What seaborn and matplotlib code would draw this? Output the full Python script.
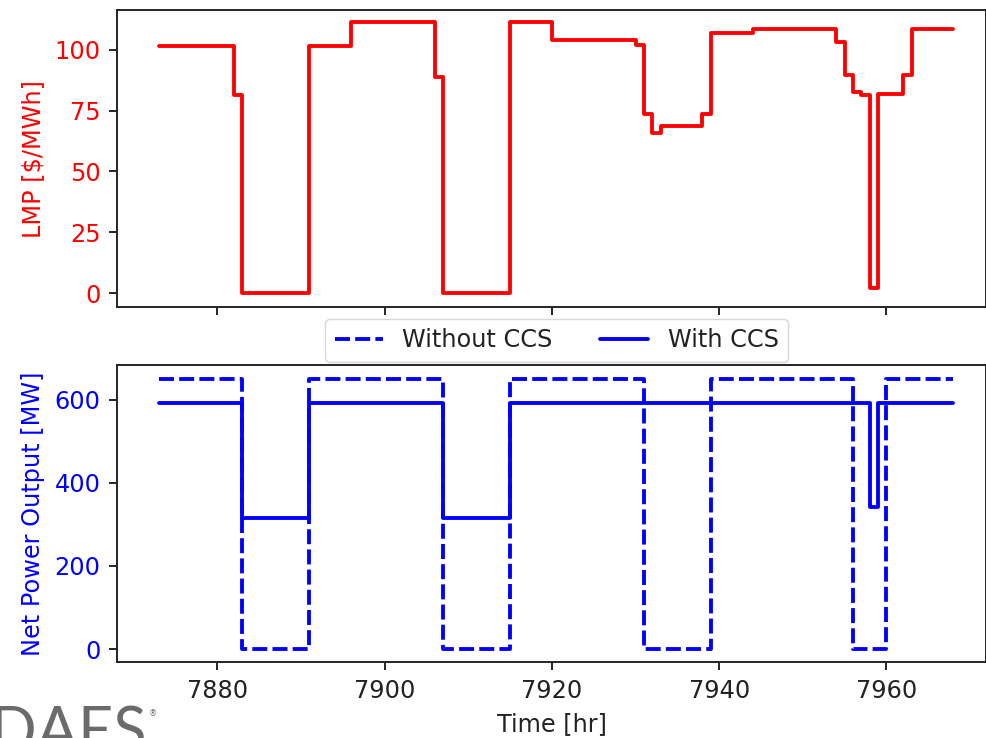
import matplotlib
matplotlib.use("Agg")
import matplotlib.pyplot as plt
import seaborn as sns

# Locational marginal price (step changes, hourly)
lmp_hours = [7873, 7882, 7883, 7891, 7896, 7906, 7907, 7915, 7920, 7930, 7931,
             7932, 7933, 7938, 7939, 7944, 7954, 7955, 7956, 7957, 7958, 7959,
             7962, 7963, 7968]
lmp_values = [101.6, 81.5, 0.0, 101.6, 111.2, 88.8, 0.0, 111.2, 103.8, 102.0,
              73.7, 65.6, 68.7, 73.7, 107.0, 108.6, 103.1, 89.5, 82.5, 81.5,
              1.9, 82.0, 89.7, 108.3, 108.3]

# Net power output of the plant
without_ccs_hours = [7873, 7883, 7891, 7907, 7915, 7931, 7939, 7956, 7960, 7968]
without_ccs_mw = [650, 0, 650, 0, 650, 0, 650, 0, 650, 650]
with_ccs_hours = [7873, 7883, 7891, 7907, 7915, 7958, 7959, 7968]
with_ccs_mw = [592, 315, 592, 315, 592, 342, 592, 592]

xticks = [7880, 7900, 7920, 7940, 7960]
lmp_ticks = [0, 25, 50, 75, 100]
power_ticks = [0, 200, 400, 600]

sns.set_style("ticks")
k = 1.73  # scale factor for a 987x738 canvas
plt.rcParams.update({
    "font.family": ["DejaVu Sans"],
    "font.size": 10 * k,
    "axes.linewidth": 0.8 * k,
    "axes.edgecolor": "#222222",
    "xtick.major.size": 3.5 * k,
    "ytick.major.size": 3.5 * k,
    "xtick.major.width": 0.8 * k,
    "ytick.major.width": 0.8 * k,
    "xtick.major.pad": 3.5 * k,
    "ytick.major.pad": 3.5 * k,
    "axes.labelpad": 4 * k,
    "xtick.color": "#222222",
    "ytick.color": "#222222",
    "text.color": "#222222",
    "axes.labelcolor": "#222222",
    "lines.linewidth": 1.5 * k,
})

fig = plt.figure(figsize=(9.87, 7.38), dpi=100)
W, H = 987, 738


def add_axes_px(left, top, right, bottom):
    return fig.add_axes([left / W, 1 - bottom / H, (right - left) / W, (bottom - top) / H])


ax_top = add_axes_px(117.3, 10, 986, 307)
ax_bot = add_axes_px(117.3, 365, 986, 661.7)

red = "#ff0000"
blue = "#0000ff"
lw = 1.6 * k

sns.lineplot(x=lmp_hours, y=lmp_values, ax=ax_top, color=red, linewidth=lw,
             drawstyle="steps-post", sort=False)
ax_top.set_ylabel("LMP [$/MWh]", color=red)
ax_top.set_yticks(lmp_ticks)
ax_top.tick_params(axis="y", labelcolor=red)
ax_top.set_ylim(-5.7, 116.3)

sns.lineplot(x=without_ccs_hours, y=without_ccs_mw, ax=ax_bot, color=blue,
             linewidth=lw, linestyle=(0, (3.9, 1.35)), drawstyle="steps-post",
             sort=False, label="Without CCS")
sns.lineplot(x=with_ccs_hours, y=with_ccs_mw, ax=ax_bot, color=blue,
             linewidth=lw, linestyle="-", drawstyle="steps-post", sort=False,
             label="With CCS")
ax_bot.set_ylabel("Net Power Output [MW]", color=blue)
ax_bot.set_yticks(power_ticks)
ax_bot.tick_params(axis="y", labelcolor=blue)
ax_bot.set_ylim(-30.5, 684)
ax_bot.set_xlabel("Time [hr]")

for ax in (ax_top, ax_bot):
    ax.set_xlim(7868.05, 7971.9)
    ax.set_xticks(xticks)
    for s in ax.spines.values():
        s.set_visible(True)
ax_top.tick_params(axis="x", labelbottom=False)

ax_bot.legend(loc="lower center", bbox_to_anchor=(0.5056, 1.01), ncol=2,
              borderaxespad=0, frameon=True)

# Logo text at the lower left corner
fig.text(147 / W, 1 - 751 / H, "IDAES", ha="right", va="baseline",
         fontsize=44, color="#6b6b6b", family=["Lato", "DejaVu Sans"],
         fontweight="normal")
fig.text(149 / W, 1 - 716 / H, "®", ha="left", va="baseline",
         fontsize=6, color="#6b6b6b")

fig.savefig("out.png", dpi=100)
